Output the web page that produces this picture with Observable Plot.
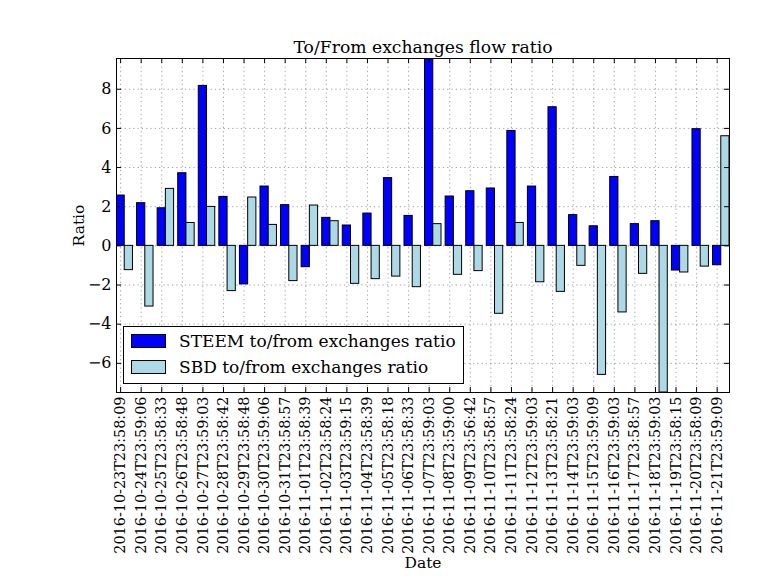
<!DOCTYPE html>
<html>
<head>
<meta charset="utf-8">
<script src="https://cdn.jsdelivr.net/npm/d3@7"></script>
<script src="https://cdn.jsdelivr.net/npm/@observablehq/plot@0.6"></script>
<style>
  html, body { margin: 0; padding: 0; background: #fff; }
  #chart { position: relative; width: 768px; height: 576px; }
</style>
</head>
<body>
<div id="chart"></div>
<script>
const dates = [
  "2016-10-23T23:58:09","2016-10-24T23:59:06","2016-10-25T23:58:33","2016-10-26T23:58:48",
  "2016-10-27T23:59:03","2016-10-28T23:58:42","2016-10-29T23:58:48","2016-10-30T23:59:06",
  "2016-10-31T23:58:57","2016-11-01T23:58:39","2016-11-02T23:58:24","2016-11-03T23:59:15",
  "2016-11-04T23:58:39","2016-11-05T23:58:18","2016-11-06T23:58:33","2016-11-07T23:59:03",
  "2016-11-08T23:59:00","2016-11-09T23:56:42","2016-11-10T23:58:57","2016-11-11T23:58:24",
  "2016-11-12T23:59:03","2016-11-13T23:58:21","2016-11-14T23:59:03","2016-11-15T23:59:09",
  "2016-11-16T23:59:03","2016-11-17T23:58:57","2016-11-18T23:59:03","2016-11-19T23:58:15",
  "2016-11-20T23:58:09","2016-11-21T23:59:09"
];
const steem = [2.57,2.18,1.92,3.71,8.17,2.50,-1.97,3.03,2.08,-1.09,1.43,1.04,1.65,3.46,1.53,9.57,
  2.52,2.79,2.93,5.87,3.03,7.08,1.57,1.00,3.52,1.11,1.26,-1.26,5.96,-0.99];
const sbd = [-1.24,-3.10,2.91,1.17,1.99,-2.31,2.47,1.07,-1.80,2.06,1.26,-1.94,-1.70,-1.57,-2.11,1.11,
  -1.48,-1.29,-3.47,1.17,-1.86,-2.35,-1.02,-6.59,-3.40,-1.43,-7.49,-1.36,-1.06,5.60];
const yTicks = [-6,-4,-2,0,2,4,6,8];
const seriesNames = ["STEEM to/from exchanges ratio", "SBD to/from exchanges ratio"];
const seriesColors = ["#0000ff", "#add8e6"];
const titleText = "To/From exchanges flow ratio";
const xLabel = "Date";
const yLabel = "Ratio";

const barW = 0.4;
const idx = dates.map((d, i) => i);
const steemRows = steem.map((v, i) => ({i, v}));
const sbdRows = sbd.map((v, i) => ({i, v}));
const yMin = Math.min(d3.min(steem), d3.min(sbd));
const yMax = Math.max(d3.max(steem), d3.max(sbd));

const W = 768, H = 576;
const mL = 116, mR = 39, mT = 58, mB = 184;
const plotW = W - mL - mR, plotH = H - mT - mB;
const font = "DejaVu Serif";

const chart = Plot.plot({
  width: W, height: H,
  marginLeft: mL, marginRight: mR, marginTop: mT, marginBottom: mB,
  style: {fontFamily: font, background: "white", color: "black"},
  x: {type: "linear", domain: [-barW / 2, dates.length - 1 + barW * 1.5]},
  y: {domain: [yMin, yMax]},
  marks: [
    Plot.gridX(idx, {stroke: "#000", strokeOpacity: 0.6, strokeWidth: 0.6, strokeDasharray: "1.3,3"}),
    Plot.gridY(yTicks, {stroke: "#000", strokeOpacity: 0.6, strokeWidth: 0.6, strokeDasharray: "1.3,3"}),
    Plot.rect(steemRows, {x1: d => d.i - barW / 2, x2: d => d.i + barW / 2, y1: 0, y2: "v",
      fill: seriesColors[0], stroke: "#000", strokeWidth: 1, clip: true}),
    Plot.rect(sbdRows, {x1: d => d.i + barW / 2, x2: d => d.i + barW * 1.5, y1: 0, y2: "v",
      fill: seriesColors[1], stroke: "#000", strokeWidth: 1, clip: true}),
    // inward ticks
    Plot.ruleX(idx, {insetTop: plotH - 5, stroke: "#000"}),
    Plot.ruleX(idx, {insetBottom: plotH - 5, stroke: "#000"}),
    Plot.ruleY(yTicks, {insetRight: plotW - 5, stroke: "#000"}),
    Plot.ruleY(yTicks, {insetLeft: plotW - 5, stroke: "#000"}),
    Plot.axisX(idx, {anchor: "bottom", tickSize: 0, tickPadding: 4, tickRotate: -90,
      tickFormat: i => dates[i], fontSize: 14.4, label: null}),
    Plot.axisY(yTicks, {anchor: "left", tickSize: 0, tickPadding: 5,
      tickFormat: d => d < 0 ? "\u2212" + Math.abs(d) : String(d), fontSize: 16, label: null}),
    Plot.frame({stroke: "#000", strokeWidth: 1}),
    Plot.text([titleText], {frameAnchor: "top", dy: -11, fontSize: 17.2, lineAnchor: "middle"}),
    Plot.text([xLabel], {frameAnchor: "bottom", dy: 171, fontSize: 15.5, lineAnchor: "middle"}),
    Plot.text([yLabel], {frameAnchor: "left", dx: -37, rotate: -90, fontSize: 15.5, lineAnchor: "middle", textAnchor: "middle"})
  ]
});
document.getElementById("chart").appendChild(chart);

// legend (lower left, inside the axes)
const svg = d3.select(chart);
const lg = svg.append("g").attr("font-family", font).attr("text-anchor", "start");
const lx = 123, ly = 326, lw = 340, lh = 57;
lg.append("rect").attr("x", lx + 0.5).attr("y", ly + 0.5).attr("width", lw).attr("height", lh)
  .attr("fill", "white").attr("stroke", "#000");
seriesNames.forEach((name, k) => {
  const yy = ly + 8 + k * 26;
  lg.append("rect").attr("x", lx + 8.5).attr("y", yy + 0.5).attr("width", 34).attr("height", 13)
    .attr("fill", seriesColors[k]).attr("stroke", "#000");
  lg.append("text").attr("x", lx + 56).attr("y", yy + 7).attr("dy", "0.35em")
    .attr("text-anchor", "start").attr("font-size", 17).text(name);
});
</script>
</body>
</html>
